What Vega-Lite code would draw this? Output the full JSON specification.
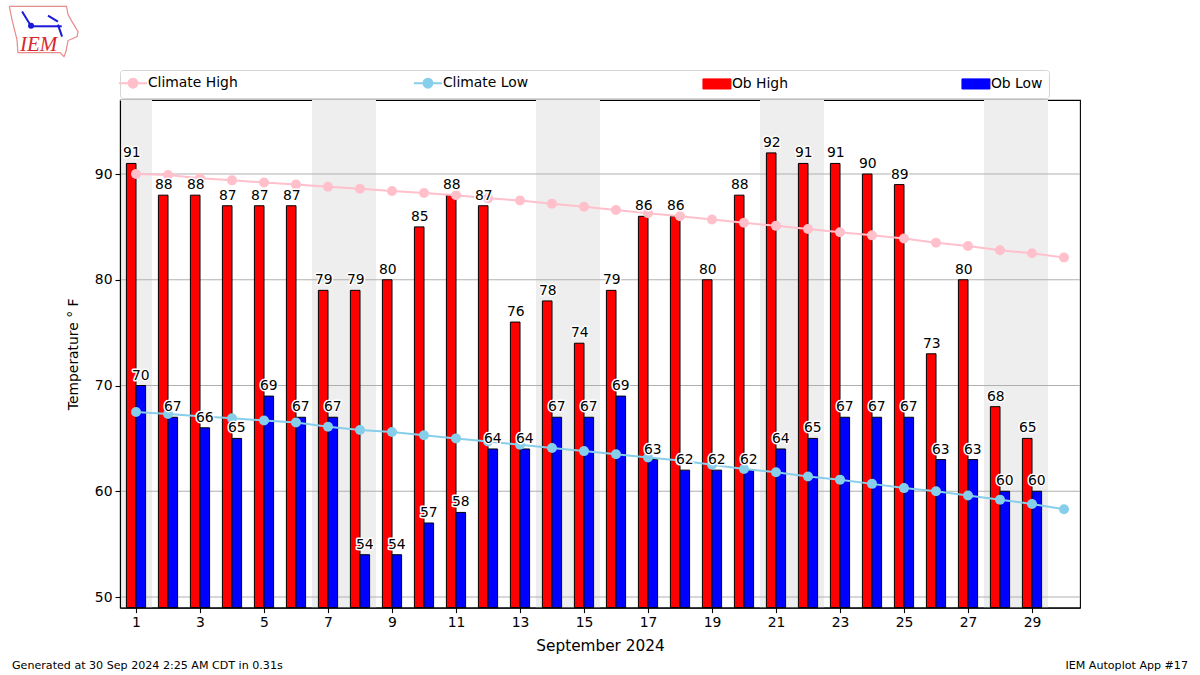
{
"$schema":"https://vega.github.io/schema/vega-lite/v6.json",
"width":960,"height":507.6,
"autosize":{"type":"none"},
"padding":{"left":120,"top":100,"right":120,"bottom":67.4},
"background":"white",
"config":{"font":"DejaVu Sans","view":{"stroke":"black","strokeWidth":1.1},"axisX":{"labelOverlap":false},"axis":{"labelOverlap":false}},
"title":{"text":["[MAFA1] MADISON 2 N :: Hi/Lo Temps for Sep 2024","NCEI 1991-2020 Climate Site: USW00003856"],"anchor":"start","frame":"group","fontSize":19.4,"fontWeight":"normal","font":"DejaVu Sans","lineHeight":21.5,"offset":8,"color":"black"},
"datasets":{
"days":[
{"day":1,"climate_high":90.0,"climate_low":67.5,"ob_high":91,"ob_low":70},
{"day":2,"climate_high":89.9,"climate_low":67.3,"ob_high":88,"ob_low":67},
{"day":3,"climate_high":89.6,"climate_low":67.1,"ob_high":88,"ob_low":66},
{"day":4,"climate_high":89.4,"climate_low":66.9,"ob_high":87,"ob_low":65},
{"day":5,"climate_high":89.2,"climate_low":66.7,"ob_high":87,"ob_low":69},
{"day":6,"climate_high":89.0,"climate_low":66.5,"ob_high":87,"ob_low":67},
{"day":7,"climate_high":88.8,"climate_low":66.1,"ob_high":79,"ob_low":67},
{"day":8,"climate_high":88.6,"climate_low":65.8,"ob_high":79,"ob_low":54},
{"day":9,"climate_high":88.4,"climate_low":65.6,"ob_high":80,"ob_low":54},
{"day":10,"climate_high":88.2,"climate_low":65.3,"ob_high":85,"ob_low":57},
{"day":11,"climate_high":88.0,"climate_low":65.0,"ob_high":88,"ob_low":58},
{"day":12,"climate_high":87.7,"climate_low":64.7,"ob_high":87,"ob_low":64},
{"day":13,"climate_high":87.5,"climate_low":64.4,"ob_high":76,"ob_low":64},
{"day":14,"climate_high":87.2,"climate_low":64.1,"ob_high":78,"ob_low":67},
{"day":15,"climate_high":86.9,"climate_low":63.8,"ob_high":74,"ob_low":67},
{"day":16,"climate_high":86.6,"climate_low":63.5,"ob_high":79,"ob_low":69},
{"day":17,"climate_high":86.3,"climate_low":63.2,"ob_high":86,"ob_low":63},
{"day":18,"climate_high":86.0,"climate_low":62.9,"ob_high":86,"ob_low":62},
{"day":19,"climate_high":85.7,"climate_low":62.5,"ob_high":80,"ob_low":62},
{"day":20,"climate_high":85.4,"climate_low":62.1,"ob_high":88,"ob_low":62},
{"day":21,"climate_high":85.1,"climate_low":61.8,"ob_high":92,"ob_low":64},
{"day":22,"climate_high":84.8,"climate_low":61.4,"ob_high":91,"ob_low":65},
{"day":23,"climate_high":84.5,"climate_low":61.1,"ob_high":91,"ob_low":67},
{"day":24,"climate_high":84.2,"climate_low":60.7,"ob_high":90,"ob_low":67},
{"day":25,"climate_high":83.9,"climate_low":60.3,"ob_high":89,"ob_low":67},
{"day":26,"climate_high":83.5,"climate_low":60.0,"ob_high":73,"ob_low":63},
{"day":27,"climate_high":83.2,"climate_low":59.6,"ob_high":80,"ob_low":63},
{"day":28,"climate_high":82.8,"climate_low":59.2,"ob_high":68,"ob_low":60},
{"day":29,"climate_high":82.5,"climate_low":58.8,"ob_high":65,"ob_low":60},
{"day":30,"climate_high":82.1,"climate_low":58.3}
],
"weekends":[{"start":0.5,"end":1.5},{"start":6.5,"end":8.5},{"start":13.5,"end":15.5},{"start":20.5,"end":22.5},{"start":27.5,"end":29.5}],
"grid":[{"temp":50},{"temp":60},{"temp":70},{"temp":80},{"temp":90}],
"outline":[
{"i":0,"day":-2.96,"temp":105.86},{"i":1,"day":-1.17,"temp":105.86},{"i":2,"day":-1.125,"temp":105.08},{"i":3,"day":-1.0,"temp":104.41},{"i":4,"day":-0.81,"temp":103.47},{"i":5,"day":-0.84,"temp":103.0},{"i":6,"day":-1.125,"temp":102.62},{"i":7,"day":-1.19,"temp":101.58},{"i":8,"day":-1.25,"temp":101.1},{"i":9,"day":-1.375,"temp":101.48},{"i":10,"day":-2.69,"temp":101.48},{"i":11,"day":-2.72,"temp":102.71},{"i":12,"day":-2.875,"temp":104.6},{"i":13,"day":-2.96,"temp":105.86}],
"glyph":[
{"part":"body","day":-2.26,"temp":103.97},{"part":"body","day":-1.32,"temp":103.97},
{"part":"wing","day":-1.75,"temp":104.98},{"part":"wing","day":-1.44,"temp":104.41},
{"part":"tail","day":-2.56,"temp":105.36},{"part":"tail","day":-2.31,"temp":104.13},
{"part":"fin","day":-1.44,"temp":104.13},{"part":"fin","day":-1.31,"temp":103.0}
]
},
"data":{"name":"days"},
"layer":[
{"data":{"name":"weekends"},"mark":{"type":"rect","color":"#eeeeee"},
 "encoding":{"x":{"field":"start","type":"quantitative","scale":{"domain":[0.5,30.5],"nice":false,"zero":false,"padding":0},
   "axis":{"values":[1,2,3,4,5,6,7,8,9,10,11,12,13,14,15,16,17,18,19,20,21,22,23,24,25,26,27,28,29,30],"format":"d","grid":false,"zindex":1,"title":"September 2024","titleFontSize":15.3,"titleFontWeight":"normal","titleColor":"black","titlePadding":9,"labelFontSize":13.9,"labelColor":"black","labelPadding":3,"labelOverlap":false,"labelFlush":false,"tickColor":"black","tickSize":5,"tickWidth":1.1,"domainColor":"black","domainWidth":1.1}},
  "x2":{"field":"end"}}},
{"data":{"name":"grid"},"mark":{"type":"rule","color":"#b0b0b0","strokeWidth":1.1},
 "encoding":{"y":{"field":"temp","type":"quantitative","scale":{"domain":[49,97],"nice":false,"zero":false},
   "axis":{"values":[50,60,70,80,90],"format":"d","grid":false,"zindex":1,"title":"Temperature ° F","titleFontSize":13.9,"titleFontWeight":"normal","titleColor":"black","titlePadding":14,"labelFontSize":13.9,"labelColor":"black","labelPadding":3,"tickColor":"black","tickSize":5,"tickWidth":1.1,"domainColor":"black","domainWidth":1.1}}}},
{"transform":[{"filter":"isValid(datum.ob_high)"}],"mark":{"type":"bar","width":9.6,"xOffset":-4.8,"stroke":"black","strokeWidth":1},
 "encoding":{"x":{"field":"day","type":"quantitative"},"y":{"field":"ob_high","type":"quantitative"},"y2":{"datum":49},
  "color":{"datum":"Ob High","type":"nominal","scale":{"domain":["Climate High","Climate Low","Ob High","Ob Low"],"range":["#ffc0cb","#87ceeb","#ff0000","#0000ff"]},
   "legend":{"title":null,"orient":"none","legendX":0,"legendY":-30,"direction":"horizontal","columns":4,"gridAlign":"each","columnPadding":171,"padding":6,"fillColor":"white","strokeColor":"#d5d5d5","cornerRadius":3,"labelFontSize":13.9,"labelColor":"black","labelOffset":8,"symbolSize":784,"symbolOpacity":1,
    "encoding":{"symbols":{
     "shape":{"value":{"expr":"indexof(['Ob High','Ob Low'],datum.value)>=0?'M-1,-0.36H1V0.36H-1Z':'M-1,0H1M-0.32,0A0.32,0.32,0,1,1,0.32,0A0.32,0.32,0,1,1,-0.32,0Z'"}},
     "fill":{"value":{"expr":"{'Climate High':'#ffc0cb','Climate Low':'#87ceeb','Ob High':'#ff0000','Ob Low':'#0000ff'}[datum.value]"}},
     "stroke":{"value":{"expr":"{'Climate High':'#ffc0cb','Climate Low':'#87ceeb','Ob High':'black','Ob Low':'black'}[datum.value]"}},
     "strokeWidth":{"value":{"expr":"indexof(['Ob High','Ob Low'],datum.value)>=0?1:2"}}
     }}}}}},
{"transform":[{"filter":"isValid(datum.ob_low)"}],"mark":{"type":"bar","width":9.6,"xOffset":4.8,"stroke":"black","strokeWidth":1},
 "encoding":{"x":{"field":"day","type":"quantitative"},"y":{"field":"ob_low","type":"quantitative"},"y2":{"datum":49},"color":{"datum":"Ob Low","type":"nominal"}}},
{"mark":{"type":"line","strokeWidth":2,"point":{"filled":true,"size":100,"opacity":1}},
 "encoding":{"x":{"field":"day","type":"quantitative"},"y":{"field":"climate_high","type":"quantitative"},"color":{"datum":"Climate High","type":"nominal"}}},
{"mark":{"type":"line","strokeWidth":2,"point":{"filled":true,"size":100,"opacity":1}},
 "encoding":{"x":{"field":"day","type":"quantitative"},"y":{"field":"climate_low","type":"quantitative"},"color":{"datum":"Climate Low","type":"nominal"}}},
{"transform":[{"filter":"isValid(datum.ob_high)"}],"mark":{"type":"text","align":"left","baseline":"alphabetic","dx":-13,"dy":-6,"fontSize":13.9,"stroke":"white","strokeWidth":3,"strokeJoin":"round"},
 "encoding":{"x":{"field":"day","type":"quantitative"},"y":{"field":"ob_high","type":"quantitative"},"text":{"field":"ob_high","type":"quantitative"}}},
{"transform":[{"filter":"isValid(datum.ob_low)"}],"mark":{"type":"text","align":"left","baseline":"alphabetic","dx":-4,"dy":-6,"fontSize":13.9,"stroke":"white","strokeWidth":3,"strokeJoin":"round"},
 "encoding":{"x":{"field":"day","type":"quantitative"},"y":{"field":"ob_low","type":"quantitative"},"text":{"field":"ob_low","type":"quantitative"}}},
{"transform":[{"filter":"isValid(datum.ob_high)"}],"mark":{"type":"text","align":"left","baseline":"alphabetic","dx":-13,"dy":-6,"fontSize":13.9,"color":"black"},
 "encoding":{"x":{"field":"day","type":"quantitative"},"y":{"field":"ob_high","type":"quantitative"},"text":{"field":"ob_high","type":"quantitative"}}},
{"transform":[{"filter":"isValid(datum.ob_low)"}],"mark":{"type":"text","align":"left","baseline":"alphabetic","dx":-4,"dy":-6,"fontSize":13.9,"color":"black"},
 "encoding":{"x":{"field":"day","type":"quantitative"},"y":{"field":"ob_low","type":"quantitative"},"text":{"field":"ob_low","type":"quantitative"}}},
{"data":{"values":[{"day":-2.875,"temp":43.23,"note":"Generated at 30 Sep 2024 2:25 AM CDT in 0.31s"}]},"mark":{"type":"text","align":"left","baseline":"alphabetic","fontSize":11.1,"color":"black"},
 "encoding":{"x":{"field":"day","type":"quantitative"},"y":{"field":"temp","type":"quantitative"},"text":{"field":"note"}}},
{"data":{"values":[{"day":33.875,"temp":43.23,"note":"IEM Autoplot App #17"}]},"mark":{"type":"text","align":"right","baseline":"alphabetic","fontSize":11.1,"color":"black"},
 "encoding":{"x":{"field":"day","type":"quantitative"},"y":{"field":"temp","type":"quantitative"},"text":{"field":"note"}}},
{"data":{"name":"outline"},"mark":{"type":"line","color":"#e88a8a","strokeWidth":1.2,"clip":false},
 "encoding":{"x":{"field":"day","type":"quantitative"},"y":{"field":"temp","type":"quantitative"},"order":{"field":"i"}}},
{"data":{"name":"glyph"},"mark":{"type":"line","color":"#1a1ad6","strokeWidth":2,"clip":false},
 "encoding":{"x":{"field":"day","type":"quantitative"},"y":{"field":"temp","type":"quantitative"},"detail":{"field":"part"}}},
{"data":{"values":[{"day":-2.28,"temp":104.03}]},"mark":{"type":"point","filled":true,"size":36,"color":"#1a1ad6","opacity":1},
 "encoding":{"x":{"field":"day","type":"quantitative"},"y":{"field":"temp","type":"quantitative"}}},
{"data":{"values":[{"day":-2.625,"temp":101.67,"word":"IEM"}]},"mark":{"type":"text","align":"left","baseline":"alphabetic","font":"Liberation Serif","fontStyle":"italic","fontSize":21,"color":"#d8282f"},
 "encoding":{"x":{"field":"day","type":"quantitative"},"y":{"field":"temp","type":"quantitative"},"text":{"field":"word"}}}
]
}
